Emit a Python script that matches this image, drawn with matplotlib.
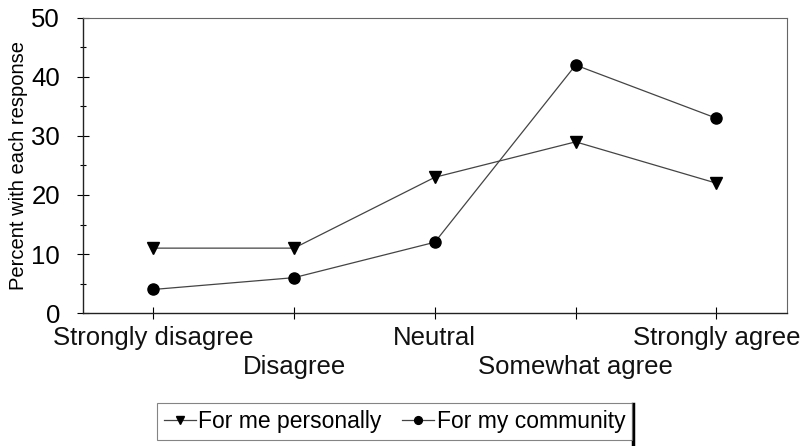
import matplotlib
matplotlib.use("Agg")
import matplotlib.pyplot as plt
from matplotlib.lines import Line2D
from matplotlib.ticker import MultipleLocator

plt.rcParams['font.family'] = ['Liberation Sans', 'DejaVu Sans']

# ---------- данные ----------
categories = ["Strongly disagree", "Disagree", "Neutral", "Somewhat agree", "Strongly agree"]
me_personally = [11, 11, 23, 29, 22]
my_community = [4, 6, 12, 42, 33]

# ---------- рисунок ----------
fig = plt.figure(figsize=(8.12, 4.46), dpi=100)
ax = fig.add_axes([0.102, 0.298, 0.867, 0.662])

x = list(range(len(categories)))
ax.plot(x, me_personally, color='#444444', lw=0.9, marker='v', ms=8.5,
        mfc='black', mec='black', label='For me personally')
ax.plot(x, my_community, color='#444444', lw=0.9, marker='o', ms=8,
        mfc='black', mec='black', label='For my community')

ax.set_xlim(-0.5, 4.5)
ax.set_ylim(0, 50)
ax.yaxis.set_major_locator(MultipleLocator(10))
ax.yaxis.set_minor_locator(MultipleLocator(5))

ax.set_xticks(x)
ax.set_xticklabels(categories, fontsize=18.5, color='#111111')

ax.tick_params(axis='y', which='major', direction='inout', length=9, width=0.8,
               labelsize=18.5, pad=12)
ax.tick_params(axis='y', which='minor', direction='inout', length=5, width=0.8)
ax.tick_params(axis='x', direction='inout', length=9, width=0.8)

# подписи в два яруса
for i, t in enumerate(ax.xaxis.get_major_ticks()):
    t.set_pad(5 if i % 2 == 0 else 26)

ax.set_ylabel("Percent with each response", fontsize=14.5, labelpad=2)

for s in ['left', 'bottom']:
    ax.spines[s].set_color('#222222')
    ax.spines[s].set_linewidth(1.0)
for s in ['top', 'right']:
    ax.spines[s].set_color('#666666')
    ax.spines[s].set_linewidth(0.8)

leg = fig.legend(loc='upper center', bbox_to_anchor=(0.486, 0.096), ncol=2,
                 fontsize=16.5, frameon=True, fancybox=False, edgecolor='#666666',
                 handlelength=1.4, handletextpad=0.1, columnspacing=0.9,
                 borderpad=0.3, borderaxespad=0, markerscale=0.7)
leg.get_frame().set_linewidth(0.8)

# тёмная полоса справа у легенды
fig.add_artist(Line2D([0.779, 0.779], [0.0, 0.094], transform=fig.transFigure,
                      color='black', lw=2.5))

fig.savefig("out.png", dpi=100)
